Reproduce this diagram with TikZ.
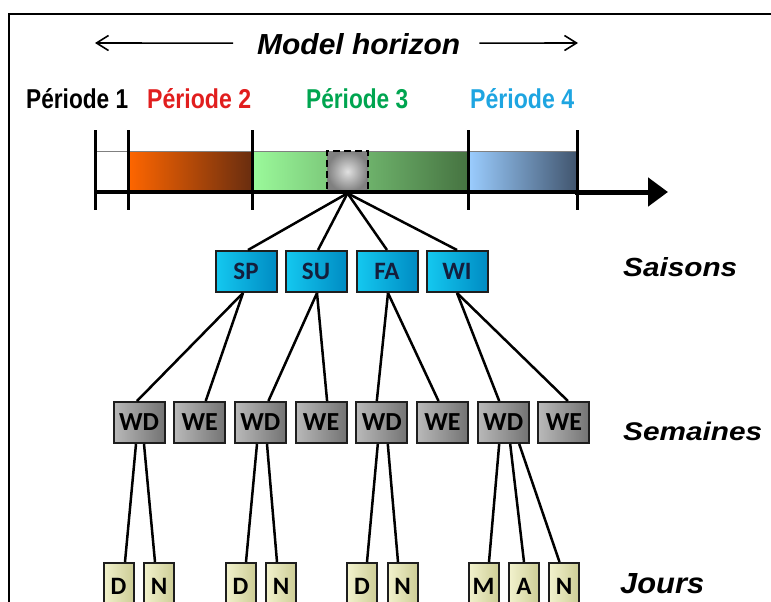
\documentclass[tikz,border=0pt]{standalone}
\usepackage{graphicx}
\usepackage{fontspec}
\setmainfont{Liberation Sans}
\newfontfamily\boxfont{Carlito}
\usetikzlibrary{arrows.meta}
\definecolor{pertwo}{RGB}{225,30,30}
\definecolor{perthree}{RGB}{0,165,80}
\definecolor{perfour}{RGB}{30,165,225}
\definecolor{orA}{RGB}{255,102,0}
\definecolor{orB}{RGB}{105,45,15}
\definecolor{grA}{RGB}{155,250,155}
\definecolor{grB}{RGB}{70,115,65}
\definecolor{blA}{RGB}{155,205,255}
\definecolor{blB}{RGB}{65,85,110}
\definecolor{cyA}{RGB}{20,200,240}
\definecolor{cyB}{RGB}{0,140,195}
\definecolor{gyA}{RGB}{185,185,185}
\definecolor{gyB}{RGB}{115,115,115}
\definecolor{yeA}{RGB}{242,242,205}
\definecolor{yeB}{RGB}{205,205,150}
\definecolor{navytext}{RGB}{20,30,60}
\definecolor{boxborder}{RGB}{30,30,30}
\begin{document}
\begin{tikzpicture}[x=1pt,y=-1pt,
  seasonbox/.style={draw=boxborder,line width=2pt,shading=axis,left color=cyA,right color=cyB,
    minimum width=61pt,minimum height=41pt,inner sep=0pt,text=navytext,
    font=\boxfont\bfseries\fontsize{25}{25}\selectfont},
  weekbox/.style={draw=boxborder,line width=2pt,shading=axis,left color=gyA,right color=gyB,
    minimum width=51pt,minimum height=41pt,inner sep=0pt,text=black,
    font=\boxfont\bfseries\fontsize{26}{26}\selectfont},
  daybox/.style={draw=boxborder,line width=2pt,shading=axis,left color=yeA,right color=yeB,
    minimum width=30pt,minimum height=47pt,inner sep=0pt,text=black,
    font=\boxfont\bfseries\fontsize{25}{25}\selectfont},
  conn/.style={line width=2.5pt,black},
  lbl/.style={anchor=base west,inner sep=0pt},
  tick/.style={line width=3pt,black},
  hzarrow/.style={line width=1.6pt,-{Straight Barb[length=12pt,width=15pt]}}
]
\useasboundingbox (0,0) rectangle (771,602);
\clip (0,0) rectangle (771,602);

% frame
\draw[line width=2.5pt] (9,640) -- (9,14) -- (800,14);

% model horizon
\node[lbl] (mh) at (257,55) {\resizebox{203pt}{21pt}{\bfseries\itshape Model horizon}};
\coordinate (al) at (95,43);
\coordinate (ar) at (578,43);
\draw[hzarrow] ([xshift=-24pt,yshift=1.5pt]mh.west) -- (al);
\draw[hzarrow] ([xshift=19pt,yshift=1.5pt]mh.east) -- (ar);

% period labels
\node[lbl] (p1) at (26,109) {\resizebox{102pt}{20pt}{\bfseries Période 1}};
\node[lbl,text=pertwo] (p2) at (147,109) {\resizebox{104pt}{20pt}{\bfseries Période 2}};
\node[lbl,text=perthree] (p3) at (306,109) {\resizebox{102pt}{20pt}{\bfseries Période 3}};
\node[lbl,text=perfour] (p4) at (470,109) {\resizebox{104pt}{20pt}{\bfseries Période 4}};

% time bar
\fill[white] (95,151) rectangle (128,192);
\shade[left color=orA,right color=orB] (128,151) rectangle (252,192);
\shade[left color=grA,right color=grB] (252,151) rectangle (468,192);
\shade[left color=blA,right color=blB] (468,151) rectangle (577,192);
\draw[gray,line width=1pt] (95,151) -- (577,151);

\node[draw=black,dashed,dash pattern=on 7pt off 4pt,line width=2.5pt,shading=radial,
  inner color=black!12,outer color=black!50,minimum size=41pt,inner sep=0pt] (sq) at (347.5,171.5) {};

\draw[line width=3.5pt] (95,192) -- (577,192);
\coordinate (axend) at (668,192);
\draw[line width=5pt,-{Triangle[length=20pt,width=28pt]}] (575,192) -- (axend);
\foreach \tx in {95,128,252,468,577}{\draw[tick] (\tx,130) -- (\tx,210);}

% seasons
\node[seasonbox] (sp) at (246,271.5) {SP};
\node[seasonbox] (su) at (316,271.5) {SU};
\node[seasonbox] (fa) at (387,271.5) {FA};
\node[seasonbox] (wi) at (457,271.5) {WI};

% weeks
\node[weekbox] (wd1) at (139,422.5) {WD};
\node[weekbox] (we1) at (199.7,422.5) {WE};
\node[weekbox] (wd2) at (260.4,422.5) {WD};
\node[weekbox] (we2) at (321.1,422.5) {WE};
\node[weekbox] (wd3) at (381.8,422.5) {WD};
\node[weekbox] (we3) at (442.5,422.5) {WE};
\node[weekbox] (wd4) at (503.2,422.5) {WD};
\node[weekbox] (we4) at (563.9,422.5) {WE};

% days
\node[daybox] (d1) at (118.5,586.5) {D};
\node[daybox] (n1) at (159,586.5) {N};
\node[daybox] (d2) at (240.5,586.5) {D};
\node[daybox] (n2) at (281,586.5) {N};
\node[daybox] (d3) at (362,586.5) {D};
\node[daybox] (n3) at (402.5,586.5) {N};
\node[daybox] (m4) at (483.5,586.5) {M};
\node[daybox] (a4) at (524,586.5) {A};
\node[daybox] (n4) at (564,586.5) {N};

% level labels
\node[lbl] (sai) at (623,276) {\resizebox{114pt}{19pt}{\bfseries\itshape Saisons}};
\node[lbl] (sem) at (623,440) {\resizebox{139pt}{18.5pt}{\bfseries\itshape Semaines}};
\node[lbl] (jou) at (620,593) {\resizebox{84pt}{20pt}{\bfseries\itshape Jours}};

% connectors: square -> seasons
\draw[conn] (sq.south) -- ([xshift=2pt]sp.north);
\draw[conn] (sq.south) -- ([xshift=2pt]su.north);
\draw[conn] (sq.south) -- (fa.north);
\draw[conn] (sq.south) -- (wi.north);

% seasons -> weeks
\draw[conn] ([xshift=-3pt]sp.south) -- ([xshift=-2pt]wd1.north);
\draw[conn] ([xshift=-3pt]sp.south) -- ([xshift=6pt]we1.north);
\draw[conn] ([xshift=1pt]su.south) -- ([xshift=8pt]wd2.north);
\draw[conn] ([xshift=1pt]su.south) -- ([xshift=6pt]we2.north);
\draw[conn] ([xshift=1pt]fa.south) -- ([xshift=-5pt]wd3.north);
\draw[conn] ([xshift=1pt]fa.south) -- ([xshift=-4pt]we3.north);
\draw[conn] (wi.south) -- ([xshift=-4pt]wd4.north);
\draw[conn] (wi.south) -- ([xshift=4pt]we4.north);

% weeks -> days
\draw[conn] ([xshift=-3pt]wd1.south) -- ([xshift=6.5pt]d1.north);
\draw[conn] ([xshift=5pt]wd1.south) -- ([xshift=-4pt]n1.north);
\draw[conn] ([xshift=-3.4pt]wd2.south) -- ([xshift=5.5pt]d2.north);
\draw[conn] ([xshift=6.6pt]wd2.south) -- ([xshift=-4pt]n2.north);
\draw[conn] ([xshift=-4pt]wd3.south) -- ([xshift=5pt]d3.north);
\draw[conn] ([xshift=6pt]wd3.south) -- ([xshift=-4.5pt]n3.north);
\draw[conn] ([xshift=-4pt]wd4.south) -- ([xshift=5.5pt]m4.north);
\draw[conn] ([xshift=7pt]wd4.south) -- (a4.north);
\draw[conn] ([xshift=16pt]wd4.south) -- ([xshift=-4.5pt]n4.north);
\end{tikzpicture}
\end{document}
